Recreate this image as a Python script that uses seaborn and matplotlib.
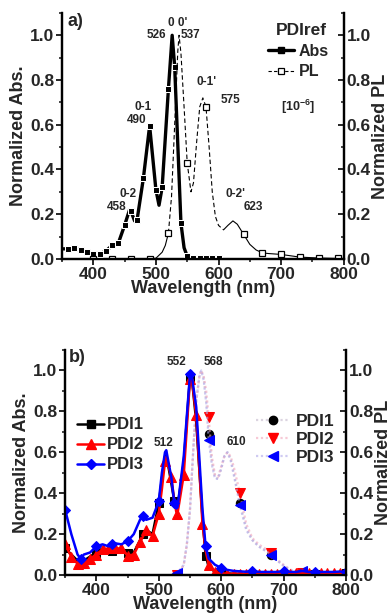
"""Normalized absorption / PL spectra of PDIref (a) and PDI1-3 (b)."""
import numpy as np
import matplotlib
matplotlib.use("Agg")
import matplotlib.pyplot as plt
from matplotlib.lines import Line2D
from matplotlib.ticker import MultipleLocator
import seaborn as sns

# ---- panel a) PDIref ----
abs_wl = [352, 360, 370, 380, 390, 400, 410, 420, 430, 440, 450, 458, 460, 466, 470, 480,
          490, 500, 505, 510, 520, 526, 530, 540, 545, 550, 560, 570, 580, 590, 600]
abs_val = [0.045, 0.045, 0.05, 0.04, 0.03, 0.022, 0.022, 0.035, 0.06, 0.07, 0.15, 0.22,
           0.215, 0.17, 0.175, 0.36, 0.595, 0.31, 0.24, 0.32, 0.76, 1.0, 0.86, 0.16,
           0.05, 0.012, 0.006, 0.005, 0.004, 0.003, 0.003]

pl_wl = [400, 430, 460, 490, 500, 510, 515, 520, 525, 530, 535, 537, 540, 545, 550, 556,
         560, 565, 570, 575, 580, 585, 590, 595, 600, 608, 615, 623, 630, 640, 650, 660,
         670, 680, 700, 730, 760, 790, 800]
pl_val = [0.0, 0.0, 0.0, 0.0, 0.003, 0.03, 0.06, 0.115, 0.28, 0.6, 0.93, 1.0, 0.92, 0.68,
          0.43, 0.30, 0.34, 0.52, 0.68, 0.72, 0.68, 0.5, 0.3, 0.19, 0.15, 0.13, 0.15,
          0.17, 0.155, 0.11, 0.065, 0.04, 0.027, 0.024, 0.02, 0.008, 0.004, 0.002, 0.002]

# ---- panel b) PDI1-3 absorption ----
b_wl = [350, 360, 370, 375, 380, 390, 400, 410, 420, 425, 430, 440, 450, 460, 470, 475,
        480, 490, 500, 505, 510, 512, 520, 525, 528, 530, 540, 550, 552, 560, 570, 575,
        580, 590, 600, 610, 620, 630, 640, 650, 660, 670, 680, 690, 700, 710, 720, 730,
        740, 750, 760, 770, 780, 790, 800]
pdi1_abs = [0.13, 0.10, 0.07, 0.065, 0.07, 0.09, 0.11, 0.13, 0.12, 0.115, 0.12, 0.12,
            0.11, 0.11, 0.17, 0.20, 0.22, 0.20, 0.35, 0.47, 0.58, 0.59, 0.45, 0.36, 0.33,
            0.33, 0.55, 0.97, 0.99, 0.75, 0.28, 0.095, 0.04, 0.015, 0.01, 0.008, 0.006,
            0.006, 0.005, 0.006, 0.005, 0.006, 0.005, 0.006, 0.006, 0.006, 0.007, 0.01,
            0.007, 0.006, 0.007, 0.008, 0.007, 0.008, 0.008]
pdi2_abs = [0.15, 0.09, 0.055, 0.05, 0.06, 0.08, 0.10, 0.125, 0.13, 0.13, 0.13, 0.13,
            0.095, 0.10, 0.16, 0.19, 0.22, 0.19, 0.30, 0.42, 0.555, 0.575, 0.48, 0.36,
            0.31, 0.30, 0.49, 0.96, 0.98, 0.78, 0.25, 0.12, 0.05, 0.015, 0.008, 0.006,
            0.005, 0.006, 0.005, 0.006, 0.005, 0.006, 0.005, 0.006, 0.007, 0.006, 0.008,
            0.012, 0.008, 0.007, 0.008, 0.009, 0.008, 0.01, 0.009]
pdi3_abs = [0.32, 0.20, 0.10, 0.08, 0.10, 0.11, 0.14, 0.15, 0.14, 0.15, 0.155, 0.15,
            0.165, 0.20, 0.27, 0.29, 0.27, 0.28, 0.36, 0.50, 0.60, 0.61, 0.48, 0.35,
            0.325, 0.33, 0.58, 0.98, 0.995, 0.82, 0.32, 0.14, 0.08, 0.05, 0.035, 0.025,
            0.02, 0.018, 0.016, 0.02, 0.015, 0.015, 0.015, 0.015, 0.02, 0.015, 0.015,
            0.02, 0.015, 0.015, 0.015, 0.015, 0.015, 0.017, 0.015]

# ---- panel b) PDI1-3 PL ----
bpl_wl = [520, 530, 540, 545, 550, 555, 560, 565, 568, 572, 576, 580, 585, 590, 595, 600,
          605, 610, 615, 620, 630, 640, 650, 660, 670, 680, 690, 700, 710, 720, 730, 740]
pdi1_pl = [0.0, 0.0, 0.05, 0.15, 0.32, 0.6, 0.85, 0.97, 1.0, 0.96, 0.85, 0.69, 0.55, 0.48,
           0.47, 0.52, 0.58, 0.6, 0.57, 0.5, 0.35, 0.23, 0.17, 0.14, 0.12, 0.10, 0.07,
           0.045, 0.025, 0.012, 0.006, 0.003]
pdi2_pl = [0.0, 0.0, 0.05, 0.15, 0.32, 0.6, 0.85, 0.97, 1.0, 0.97, 0.9, 0.77, 0.58, 0.49,
           0.48, 0.53, 0.58, 0.6, 0.58, 0.53, 0.40, 0.25, 0.18, 0.15, 0.13, 0.11, 0.075,
           0.05, 0.028, 0.015, 0.01, 0.004]
pdi3_pl = [0.0, 0.01, 0.05, 0.15, 0.32, 0.6, 0.85, 0.97, 1.0, 0.95, 0.84, 0.66, 0.54, 0.47,
           0.47, 0.52, 0.58, 0.6, 0.56, 0.49, 0.34, 0.22, 0.17, 0.14, 0.12, 0.10, 0.07,
           0.045, 0.025, 0.013, 0.02, 0.004]

sns.set_style("ticks")
plt.rcParams["font.family"] = ["Liberation Sans", "DejaVu Sans"]
plt.rcParams["font.weight"] = "bold"
plt.rcParams["axes.labelweight"] = "bold"
plt.rcParams["mathtext.fontset"] = "custom"
plt.rcParams["mathtext.rm"] = "Liberation Sans:bold"
plt.rcParams["mathtext.it"] = "Liberation Sans:bold"
plt.rcParams["mathtext.bf"] = "Liberation Sans:bold"

fig = plt.figure(figsize=(3.92, 6.15), dpi=100)
ax_a = fig.add_axes([0.158, 0.579, 0.719, 0.400])
ax_b = fig.add_axes([0.166, 0.065, 0.717, 0.366])


def style_axes(ax, ax2, ylabel):
    for a in (ax, ax2):
        a.set_xlim(350, 800)
        a.set_ylim(0, 1.1)
        a.spines["top"].set_visible(False)
        for s in ("left", "right", "bottom"):
            a.spines[s].set_linewidth(1.6)
            a.spines[s].set_color("black")
    ax.xaxis.set_major_locator(MultipleLocator(100))
    ax.xaxis.set_minor_locator(MultipleLocator(50))
    ax.yaxis.set_major_locator(MultipleLocator(0.2))
    ax.yaxis.set_minor_locator(MultipleLocator(0.1))
    ax2.yaxis.set_major_locator(MultipleLocator(0.2))
    ax2.yaxis.set_minor_locator(MultipleLocator(0.1))
    ax.tick_params(axis="both", which="major", direction="out", length=4, width=1.4,
                   labelsize=12.5, pad=1.5, right=False)
    ax.tick_params(axis="both", which="minor", direction="out", length=2.5, width=1.2,
                   right=False)
    ax2.tick_params(axis="y", which="major", direction="in", length=4, width=1.4,
                    labelsize=12.5, pad=2)
    ax2.tick_params(axis="y", which="minor", direction="in", length=2.5, width=1.2)
    ax.set_xlabel("Wavelength (nm)", fontsize=13, labelpad=-1)
    ax.set_ylabel(ylabel, fontsize=13, labelpad=2)
    ax2.set_ylabel("Normalized PL", fontsize=13, labelpad=1)
    ax.set_facecolor("none")


# ---------- panel a ----------
ax_a2 = ax_a.twinx()
abs_wl_a = np.array(abs_wl)
sns.lineplot(x=abs_wl, y=abs_val, ax=ax_a, color="black", linewidth=2.4, marker="s",
             markersize=4.5, markevery=list(np.where(abs_wl_a % 10 == 0)[0]), zorder=3)

pl_wl_a = np.array(pl_wl)
pl_val_a = np.array(pl_val)
solid_lo = pl_wl_a <= 520
dashed = (pl_wl_a >= 520) & (pl_wl_a <= 608)
solid_hi = pl_wl_a >= 608
for m in (solid_lo, solid_hi):
    sns.lineplot(x=pl_wl_a[m], y=pl_val_a[m], ax=ax_a2, color="black", linewidth=0.8)
sns.lineplot(x=pl_wl_a[dashed], y=pl_val_a[dashed], ax=ax_a2, color="black",
             linewidth=0.8, linestyle=(0, (4, 2.5)))
mk = (pl_wl_a - 400) % 30 == 0
sns.lineplot(x=pl_wl_a[mk], y=pl_val_a[mk], ax=ax_a2, linestyle="none", marker="s",
             markersize=5, markerfacecolor="white", markeredgecolor="black",
             markeredgewidth=0.9, color="black")
style_axes(ax_a, ax_a2, "Normalized Abs.")

ann_kw = dict(fontsize=8.5, fontweight="bold", ha="center", va="center")
ax_a.text(0.02, 0.965, "a)", transform=ax_a.transAxes, fontsize=13, ha="left", va="center")
for txt, x, y in [("0 0'", 535, 1.055), ("526", 501, 1.0), ("537", 555, 1.0),
                  ("0-1'", 581, 0.79), ("575", 619, 0.71), ("0-1", 479, 0.68),
                  ("490", 469, 0.62), ("0-2", 455, 0.29), ("458", 437, 0.23),
                  ("0-2'", 627, 0.29), ("623", 656, 0.23)]:
    ax_a.text(x, y, txt, **ann_kw)
ax_a.text(733, 1.02, "PDIref", fontsize=12.5, ha="center", va="center")
ax_a.text(727, 0.68, "[10$^{-6}$]", fontsize=9, ha="center", va="center")
h_abs = Line2D([], [], color="black", lw=2.4, marker="s", markersize=4.5)
h_pl = Line2D([], [], color="black", lw=0.8, linestyle=(0, (3, 2)), marker="s",
              markersize=5, markerfacecolor="white", markeredgewidth=0.9)
ax_a.legend([h_abs, h_pl], ["Abs", "PL"], loc="upper left", bbox_to_anchor=(0.71, 0.90),
            frameon=False, fontsize=11.5, handlelength=1.6, handletextpad=0.3,
            labelspacing=0.35, borderaxespad=0)

# ---------- panel b ----------
ax_b2 = ax_b.twinx()
bpl_wl_a = np.array(bpl_wl)
pl_mk = list(np.where((bpl_wl_a - 530) % 50 == 0)[0])
pl_series = [(pdi1_pl, "#c4b8cc", "o", "black", 6), (pdi2_pl, "#f2a6bc", "v", "red", 6.5),
             (pdi3_pl, "#b0a8ea", "<", "blue", 6.5)]
for vals, lc, m, mc, ms in pl_series:
    sns.lineplot(x=bpl_wl, y=vals, ax=ax_b2, color=lc, alpha=0.6, linewidth=1.6,
                 linestyle=(0, (1, 1.2)))
    sns.lineplot(x=bpl_wl_a[pl_mk], y=np.array(vals)[pl_mk], ax=ax_b2, linestyle="none",
                 marker=m, markersize=ms, color=mc, markeredgecolor=mc)

b_wl_a = np.array(b_wl)
mk25 = list(np.where(b_wl_a % 25 == 0)[0])
mk10 = list(np.where(b_wl_a % 10 == 0)[0])
sns.lineplot(x=b_wl, y=pdi1_abs, ax=ax_b, color="black", linewidth=1.8, marker="s",
             markersize=6, markevery=mk25, markeredgecolor="black")
sns.lineplot(x=b_wl, y=pdi2_abs, ax=ax_b, color="red", linewidth=1.8, marker="^",
             markersize=6.5, markevery=mk10, markeredgecolor="red")
sns.lineplot(x=b_wl, y=pdi3_abs, ax=ax_b, color="blue", linewidth=1.8, marker="D",
             markersize=5.5, markevery=mk25, markeredgecolor="blue")
style_axes(ax_b, ax_b2, "Normalized Abs.")
ax_b.set_zorder(ax_b2.get_zorder() + 1)

ax_b.text(0.015, 0.965, "b)", transform=ax_b.transAxes, fontsize=13, ha="left", va="center")
for txt, x, y in [("552", 529, 1.04), ("568", 588, 1.04), ("512", 507, 0.645),
                  ("610", 625, 0.65)]:
    ax_b.text(x, y, txt, **ann_kw)

abs_handles = [Line2D([], [], color="black", lw=1.8, marker="s", markersize=6),
               Line2D([], [], color="red", lw=1.8, marker="^", markersize=6.5),
               Line2D([], [], color="blue", lw=1.8, marker="D", markersize=5.5)]
leg_abs = ax_b.legend(abs_handles, ["PDI1", "PDI2", "PDI3"], loc="upper left",
                      bbox_to_anchor=(0.02, 0.73), frameon=False, fontsize=12,
                      handlelength=1.6, handletextpad=0.2, labelspacing=0.3,
                      borderaxespad=0)
ax_b.add_artist(leg_abs)
pl_handles = [Line2D([], [], color=lc, alpha=0.6, lw=1.6, linestyle=(0, (1, 1.2)))
              for _, lc, _, _, _ in pl_series]
pl_marks = [Line2D([], [], linestyle="none", marker=m, markersize=ms, color=mc)
            for _, _, m, mc, ms in pl_series]
ax_b.legend([(h, k) for h, k in zip(pl_handles, pl_marks)], ["PDI1", "PDI2", "PDI3"],
            loc="upper left", bbox_to_anchor=(0.655, 0.745), frameon=False, fontsize=12.5,
            handlelength=1.9, handletextpad=0.4, labelspacing=0.15, borderaxespad=0)

fig.savefig("out.png", dpi=100, facecolor="white")
